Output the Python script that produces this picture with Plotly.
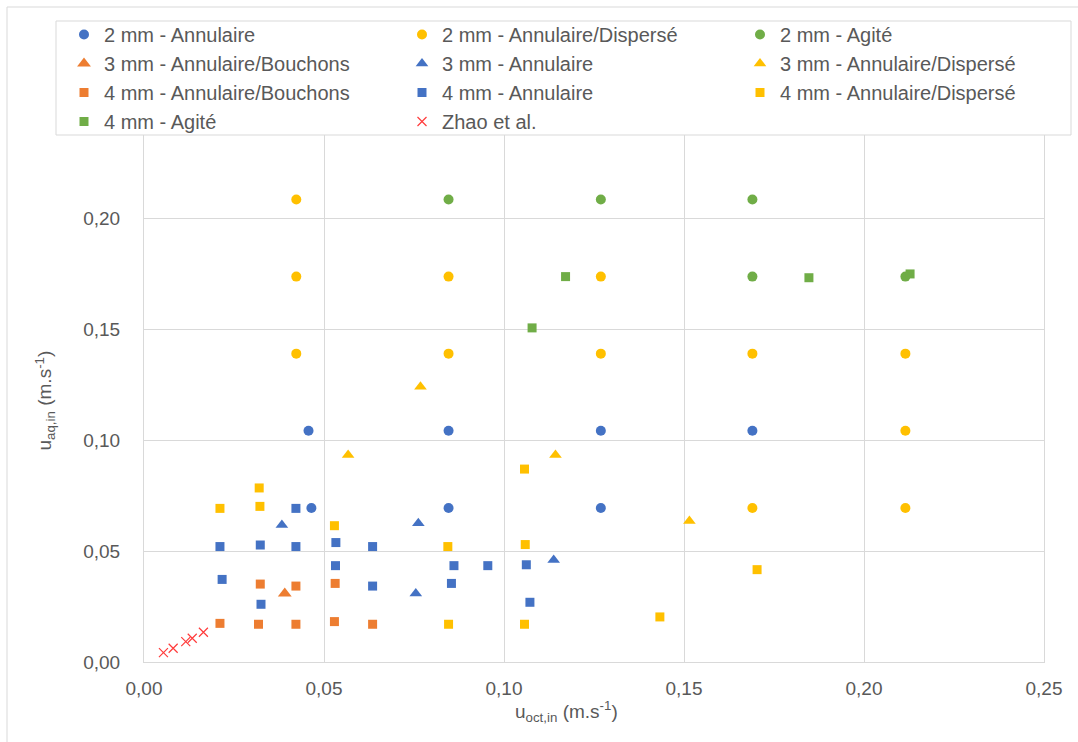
import plotly.graph_objects as go

# Series data: superficial velocities (m/s)
d2_ann_x = [0.0457, 0.0465, 0.0846, 0.0846, 0.1269, 0.1269, 0.1690]
d2_ann_y = [0.1042, 0.0694, 0.1042, 0.0694, 0.1042, 0.0694, 0.1042]

d2_disp_x = [0.0423, 0.0423, 0.0423, 0.0846, 0.0846, 0.1269, 0.1269, 0.1690, 0.1690, 0.2115, 0.2115, 0.2115]
d2_disp_y = [0.2083, 0.1736, 0.1389, 0.1736, 0.1389, 0.1736, 0.1389, 0.1389, 0.0694, 0.1389, 0.1042, 0.0694]

d2_agit_x = [0.0846, 0.1269, 0.1690, 0.1690, 0.2115]
d2_agit_y = [0.2083, 0.2083, 0.2083, 0.1736, 0.1736]

d3_bouch_x = [0.0391]
d3_bouch_y = [0.0309]

d3_ann_x = [0.0383, 0.0762, 0.0755, 0.1138]
d3_ann_y = [0.0617, 0.0625, 0.0309, 0.0459]

d3_disp_x = [0.0567, 0.0768, 0.1143, 0.1515]
d3_disp_y = [0.0932, 0.1240, 0.0932, 0.0635]

d4_bouch_x = [0.0211, 0.0318, 0.0422, 0.0529, 0.0635, 0.0323, 0.0422, 0.0531]
d4_bouch_y = [0.0174, 0.0170, 0.0170, 0.0182, 0.0170, 0.0351, 0.0342, 0.0354]

d4_ann_x = [0.0422, 0.0211, 0.0323, 0.0422, 0.0533, 0.0635, 0.0532, 0.0861,
            0.0955, 0.1062, 0.0217, 0.0635, 0.0854, 0.0325, 0.1072]
d4_ann_y = [0.0692, 0.0520, 0.0527, 0.0520, 0.0538, 0.0520, 0.0434, 0.0434,
            0.0434, 0.0438, 0.0372, 0.0342, 0.0354, 0.0260, 0.0269]

d4_disp_x = [0.0320, 0.0211, 0.0322, 0.0529, 0.0844, 0.1057, 0.1059, 0.0846, 0.1057, 0.1433, 0.1703]
d4_disp_y = [0.0784, 0.0692, 0.0701, 0.0614, 0.0520, 0.0869, 0.0529, 0.0170, 0.0170, 0.0203, 0.0416]

d4_agit_x = [0.1078, 0.1171, 0.1847, 0.2128]
d4_agit_y = [0.1505, 0.1736, 0.1731, 0.1748]

zhao_x = [0.0054, 0.0081, 0.0116, 0.0134, 0.0165]
zhao_y = [0.0042, 0.0062, 0.0092, 0.0107, 0.0134]

x_ticks = [0.00, 0.05, 0.10, 0.15, 0.20, 0.25]
y_ticks = [0.00, 0.05, 0.10, 0.15, 0.20]

BLUE = "#4472C4"
ORANGE = "#ED7D31"
YELLOW = "#FFC000"
GREEN = "#70AD47"
RED = "#FF3B3B"
FONT = "Liberation Sans"
TXT = "#595959"
GRID = "#D9D9D9"

series = [
    ("2 mm - Annulaire", d2_ann_x, d2_ann_y, "circle", BLUE, 10),
    ("2 mm - Annulaire/Dispersé", d2_disp_x, d2_disp_y, "circle", YELLOW, 10),
    ("2 mm - Agité", d2_agit_x, d2_agit_y, "circle", GREEN, 10),
    ("3 mm - Annulaire/Bouchons", d3_bouch_x, d3_bouch_y, "triangle-up", ORANGE, 12),
    ("3 mm - Annulaire", d3_ann_x, d3_ann_y, "triangle-up", BLUE, 11),
    ("3 mm - Annulaire/Dispersé", d3_disp_x, d3_disp_y, "triangle-up", YELLOW, 11),
    ("4 mm - Annulaire/Bouchons", d4_bouch_x, d4_bouch_y, "square", ORANGE, 9),
    ("4 mm - Annulaire", d4_ann_x, d4_ann_y, "square", BLUE, 9),
    ("4 mm - Annulaire/Dispersé", d4_disp_x, d4_disp_y, "square", YELLOW, 9),
    ("4 mm - Agité", d4_agit_x, d4_agit_y, "square", GREEN, 9),
]

fig = go.Figure()
for name, xs, ys, sym, col, sz in series:
    fig.add_trace(go.Scatter(
        x=xs, y=ys, mode="markers", name=name,
        marker=dict(symbol=sym, color=col, size=sz, line=dict(width=0)),
    ))
fig.add_trace(go.Scatter(
    x=zhao_x, y=zhao_y, mode="markers", name="Zhao et al.",
    marker=dict(symbol="x-thin-open", color=RED, size=9, line=dict(width=1.2, color=RED)),
))

axis_common = dict(
    showgrid=True, gridcolor=GRID, gridwidth=1,
    showline=True, linecolor=GRID, linewidth=1, mirror=True,
    zeroline=False, ticks="", tickformat=".2f",
    tickfont=dict(family=FONT, size=19, color=TXT),
)

fig.update_layout(
    width=1078, height=742,
    margin=dict(l=144, r=34, t=107, b=80),
    paper_bgcolor="white", plot_bgcolor="white",
    separators=", ",
    font=dict(family=FONT, size=20, color=TXT),
    xaxis=dict(range=[0, 0.25], tickvals=x_ticks, ticklabelstandoff=9, **axis_common),
    yaxis=dict(range=[0, 0.25], tickvals=y_ticks, ticklabelstandoff=19, **axis_common),
    legend=dict(
        orientation="h", x=(115 - 144) / 900, y=(662 - 15) / 555,
        xanchor="left", yanchor="top",
        entrywidth=293, entrywidthmode="pixels",
        bgcolor="rgba(0,0,0,0)", borderwidth=0,
        font=dict(family=FONT, size=20, color=TXT),
        itemwidth=30, traceorder="normal",
    ),
    showlegend=True,
)

fig.add_annotation(
    text="u<sub>oct,in</sub> (m.s<sup>-1</sup>)", xref="paper", yref="paper",
    x=(566 - 144) / 900, y=(662 - 727) / 555, showarrow=False,
    font=dict(family=FONT, size=19, color=TXT),
)
fig.add_annotation(
    text="u<sub>aq,in</sub> (m.s<sup>-1</sup>)", xref="paper", yref="paper",
    x=(30 - 144) / 900, y=(662 - 400) / 555, showarrow=False, textangle=-90,
    font=dict(family=FONT, size=19, color=TXT),
)

# chart-area frame
fig.add_shape(type="line", xref="paper", yref="paper",
              x0=(7 - 144) / 900, x1=(1080 - 144) / 900,
              y0=(662 - 7) / 555, y1=(662 - 7) / 555,
              line=dict(color=GRID, width=1), layer="below")
fig.add_shape(type="line", xref="paper", yref="paper",
              x0=(7 - 144) / 900, x1=(7 - 144) / 900,
              y0=(662 - 7) / 555, y1=(662 - 745) / 555,
              line=dict(color=GRID, width=1), layer="below")

# legend panel (white box with light border, over the top of the plot area)
fig.add_shape(type="rect", xref="paper", yref="paper",
              x0=(56 - 144) / 900, x1=(1071 - 144) / 900,
              y0=(662 - 135) / 555, y1=(662 - 21) / 555,
              fillcolor="white", line=dict(color=GRID, width=1), layer="above")

fig.write_html("out.html")
